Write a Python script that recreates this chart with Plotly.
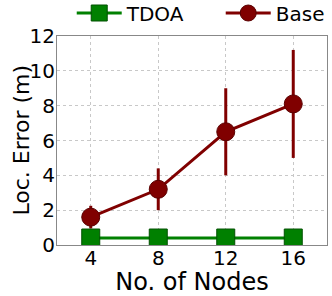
import plotly.graph_objects as go

nodes = [4, 8, 12, 16]
tdoa = [0.4, 0.4, 0.4, 0.4]
base = [1.6, 3.2, 6.5, 8.1]
base_err = [0.65, 1.2, 2.5, 3.1]
xticks = [4, 8, 12, 16]
yticks = [0, 2, 4, 6, 8, 10, 12]

green = "#008000"
red = "#800000"
font = "DejaVu Sans"

fig = go.Figure()
fig.add_trace(go.Scatter(
    x=nodes, y=base, name="Base", mode="lines+markers",
    line=dict(color=red, width=3),
    marker=dict(symbol="circle", size=18, color=red, line=dict(color="#5a0000", width=1)),
    error_y=dict(type="data", array=base_err, visible=True, color=red, thickness=3, width=0),
))
fig.add_trace(go.Scatter(
    x=nodes, y=tdoa, name="TDOA", mode="lines+markers",
    line=dict(color=green, width=3),
    marker=dict(symbol="square", size=18, color=green, line=dict(color="#005000", width=1)),
))

fig.update_layout(
    width=332, height=296,
    margin=dict(l=57, r=5, t=36, b=51, autoexpand=False),
    paper_bgcolor="white", plot_bgcolor="white",
    font=dict(family=font, size=20, color="black"),
    showlegend=True,
    legend=dict(orientation="h", xref="paper", yref="paper",
                x=-0.001, xanchor="left", y=1.11, yanchor="middle",
                traceorder="reversed", font=dict(size=20), itemwidth=45,
                bgcolor="rgba(0,0,0,0)", bordercolor="rgba(0,0,0,0)", borderwidth=15,
                entrywidth=89, tracegroupgap=0),
    xaxis=dict(range=[2, 18], tickvals=xticks, ticks="", showline=True, mirror=True,
               linecolor="#888888", linewidth=1, showgrid=True, gridcolor="#c8c8c8",
               griddash="dot", gridwidth=1, zeroline=False, automargin=False,
               ticklabelstandoff=-5,
               title=dict(text="No. of Nodes", standoff=0)),
    yaxis=dict(range=[0, 12], tickvals=yticks, ticks="", showline=True, mirror=True,
               linecolor="#888888", linewidth=1, showgrid=True, gridcolor="#c8c8c8",
               griddash="dot", gridwidth=1, zeroline=False, automargin=False,
               ticklabelstandoff=-3),
    annotations=[dict(text="Loc. Error (m)", xref="paper", yref="paper",
                      x=-0.133, y=0.5, xanchor="center", yanchor="middle",
                      textangle=-90, showarrow=False, font=dict(size=22))],
)

fig.write_html("out.html", config={"displayModeBar": False},
               post_script="document.body.style.margin='0';")
